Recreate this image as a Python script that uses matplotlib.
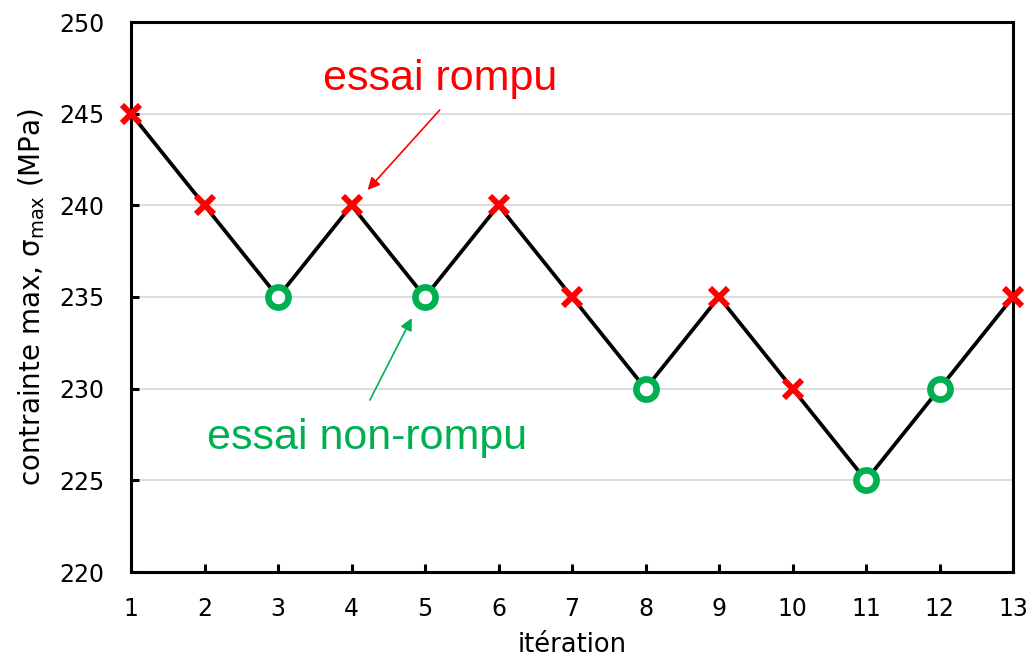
import matplotlib
matplotlib.use("Agg")
import matplotlib.pyplot as plt
import numpy as np

plt.rcParams['font.family'] = ['DejaVu Sans']

iterations = [1, 2, 3, 4, 5, 6, 7, 8, 9, 10, 11, 12, 13]
stress = [245, 240, 235, 240, 235, 240, 235, 230, 235, 230, 225, 230, 235]
broken = [True, True, False, True, False, True, True, False, True, True, False, False, True]

RED = '#FF0000'
GREEN = '#00B050'
NOTE_FONT = ['Liberation Sans', 'DejaVu Sans']

fig = plt.figure(figsize=(10.33, 6.57), dpi=100)
ax = fig.add_axes([131 / 1033, 1 - 572 / 657, (1013 - 131) / 1033, (572 - 22) / 657])

ax.plot(iterations, stress, color='black', lw=2.7, zorder=2, clip_on=False)

xb = [i for i, b in zip(iterations, broken) if b]
yb = [s for s, b in zip(stress, broken) if b]
xo = [i for i, b in zip(iterations, broken) if not b]
yo = [s for s, b in zip(stress, broken) if not b]

ax.plot(xb, yb, ls='none', marker='x', ms=12.5, mew=4.3, color=RED, zorder=3, clip_on=False)
ax.plot(xo, yo, ls='none', marker='o', ms=14.5, mew=4.8, mfc='white', mec=GREEN, zorder=3, clip_on=False)

ax.set_xlim(1, 13)
ax.set_ylim(220, 250)
ax.set_xticks(iterations)
ax.set_yticks(np.arange(220, 251, 5))
ax.tick_params(direction='in', length=6, width=2.2, labelsize=17, colors='black')
ax.tick_params(axis='x', pad=18)
ax.tick_params(axis='y', pad=19)
ax.yaxis.grid(True, color='#D9D9D9', lw=1.3)
ax.set_axisbelow(True)
for sp in ax.spines.values():
    sp.set_linewidth(2.2)

ax.set_xlabel('itération', fontsize=18.5, labelpad=8)
ax.set_ylabel(r'contrainte max, $\mathregular{\sigma_{max}}$ (MPa)', fontsize=20, labelpad=9)

ax.text(5.2, 246.9, 'essai rompu', fontsize=31, color=RED, ha='center', va='center',
        family=NOTE_FONT)
ax.annotate('', xy=(4.22, 240.84), xytext=(5.2, 245.2),
            arrowprops=dict(arrowstyle='-|>', color=RED, lw=1.2, mutation_scale=18,
                            shrinkA=0, shrinkB=0))
ax.text(4.21, 227.3, 'essai non-rompu', fontsize=31, color=GREEN, ha='center', va='center',
        family=NOTE_FONT)
ax.annotate('', xy=(4.82, 233.85), xytext=(4.25, 229.38),
            arrowprops=dict(arrowstyle='-|>', color=GREEN, lw=1.2, mutation_scale=18,
                            shrinkA=0, shrinkB=0))

fig.savefig('out.png', dpi=100)
